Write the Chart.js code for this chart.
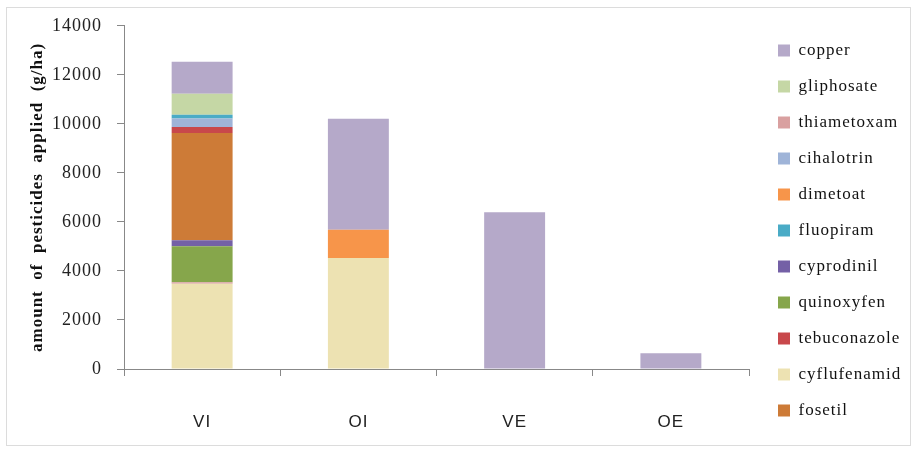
<!DOCTYPE html>
<html><head><meta charset="utf-8">
<script src="https://cdn.jsdelivr.net/npm/chart.js@4"></script>
<style>
html,body{margin:0;padding:0;background:#fff;}
#wrap{position:relative;width:918px;height:453px;}
#frame{position:absolute;left:6px;top:7px;width:905px;height:439px;border:1px solid #dcdcdc;box-sizing:border-box;pointer-events:none;}
</style></head><body>
<div id="wrap"><canvas id="c" width="918" height="453"></canvas><div id="frame"></div></div>
<script>
const categories = ['VI', 'OI', 'VE', 'OE'];
const legendOrder = ['copper','gliphosate','thiametoxam','cihalotrin','dimetoat','fluopiram','cyprodinil','quinoxyfen','tebuconazole','cyflufenamid','fosetil'];
// stacking order, bottom to top
const cyflufenamid = [3480, 4530, 0, 0];
const thiametoxam  = [60, 0, 0, 0];
const quinoxyfen   = [1465, 0, 0, 0];
const cyprodinil   = [245, 0, 0, 0];
const fosetil      = [4375, 0, 0, 0];
const tebuconazole = [245, 0, 0, 0];
const cihalotrin   = [345, 0, 0, 0];
const fluopiram    = [160, 0, 0, 0];
const dimetoat     = [0, 1155, 0, 0];
const gliphosate   = [855, 0, 0, 0];
const copper       = [1300, 4520, 6390, 640];
const yTicks = [0, 2000, 4000, 6000, 8000, 10000, 12000, 14000];

const series = [
  ['cyflufenamid', cyflufenamid, '#ede2b2'],
  ['thiametoxam', thiametoxam, '#d9a0a0'],
  ['quinoxyfen', quinoxyfen, '#86a64b'],
  ['cyprodinil', cyprodinil, '#7460a6'],
  ['fosetil', fosetil, '#cd7b37'],
  ['tebuconazole', tebuconazole, '#c8484b'],
  ['cihalotrin', cihalotrin, '#9fb4d8'],
  ['fluopiram', fluopiram, '#4aabc6'],
  ['dimetoat', dimetoat, '#f7954a'],
  ['gliphosate', gliphosate, '#c5d7a5'],
  ['copper', copper, '#b5a9c9']
];

const PAD = {left: 20, top: 22, right: 10, bottom: 14};
const AREA_LEFT = 124, AREA_RIGHT = 749, AREA_BOTTOM = 369, LEGEND_SWATCH_X = 778;

const spacingPlugin = {
  id: 'spacing',
  beforeLayout(chart) {
    chart.ctx.letterSpacing = '1px';
    const lg = chart.legend;
    if (lg && !lg._patched) {
      const f = lg.fit.bind(lg);
      lg.fit = function () { f(); this.width = chart.width - PAD.right - AREA_RIGHT; };
      lg._patched = true;
    }
  },
  afterLayout(chart) {
    const lg = chart.legend;
    const pad = lg.options.labels.padding;
    const dx = LEGEND_SWATCH_X - pad - lg.left;
    lg.left += dx; lg.right += dx;
  },
  beforeDraw(chart) { chart.ctx.letterSpacing = '1px'; }
};

new Chart(document.getElementById('c'), {
  type: 'bar',
  data: {
    labels: categories,
    datasets: series.map(s => ({label: s[0], data: s[1], backgroundColor: s[2], borderWidth: 0,
      barPercentage: 0.78, categoryPercentage: 0.5}))
  },
  plugins: [spacingPlugin],
  options: {
    responsive: false, animation: false,
    layout: {padding: PAD},
    plugins: {
      tooltip: {enabled: false},
      legend: {
        position: 'right',
        labels: {
          font: {family: 'Liberation Serif', size: 17},
          color: '#111',
          boxWidth: 12, boxHeight: 12, padding: 19,
          sort: (a, b) => legendOrder.indexOf(a.text) - legendOrder.indexOf(b.text)
        }
      }
    },
    scales: {
      x: {
        stacked: true,
        afterFit: axis => { axis.height = 453 - PAD.bottom - AREA_BOTTOM; },
        grid: {offset: true, drawOnChartArea: false, color: '#888', tickLength: 7},
        border: {color: '#888'},
        ticks: {font: {family: 'Liberation Sans', size: 17}, color: '#222', padding: 36}
      },
      y: {
        stacked: true, min: 0, max: 14000,
        afterBuildTicks: axis => { axis.ticks = yTicks.map(v => ({value: v})); },
        afterFit: axis => { axis.width = AREA_LEFT - PAD.left; },
        grid: {drawOnChartArea: false, color: '#888', tickLength: 7},
        border: {color: '#888'},
        ticks: {font: {family: 'Liberation Serif', size: 18}, color: '#222', padding: 15,
          callback: v => String(v)},
        title: {display: true, text: 'amount  of  pesticides  applied  (g/ha)',
          font: {family: 'Liberation Serif', size: 17, weight: 'bold'}, color: '#111', padding: 7}
      }
    }
  }
});
</script>
</body></html>
